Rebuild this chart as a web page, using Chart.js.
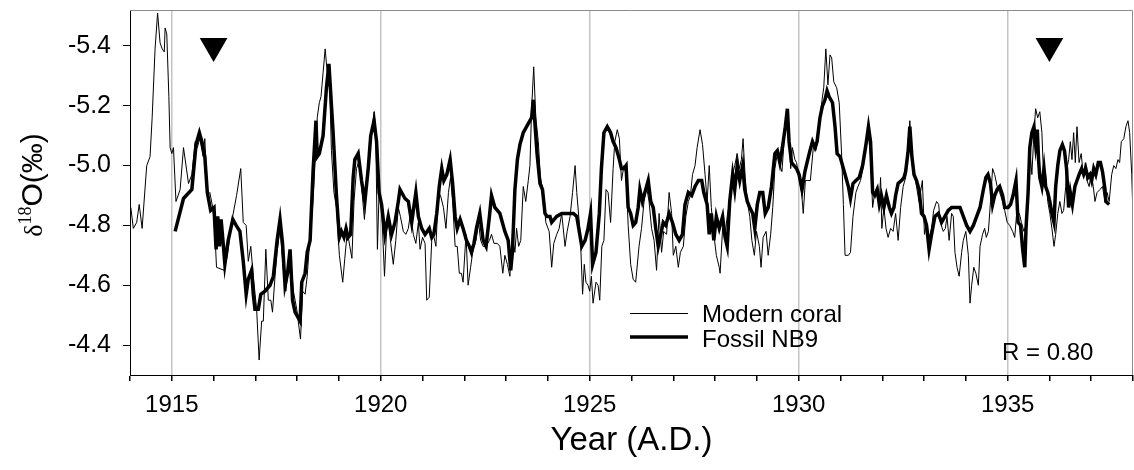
<!DOCTYPE html>
<html>
<head>
<meta charset="utf-8">
<script src="https://cdn.jsdelivr.net/npm/chart.js@4/dist/chart.umd.min.js"></script>
<style>
  body { margin: 0; background: #fff; }
  #wrap { width: 1134px; height: 470px; }
</style>
</head>
<body>
<div id="wrap"><canvas id="grafico" width="1134" height="470"></canvas></div>
<script>
// Modern coral (thin line)
const modernYears = [
  1914.02, 1914.08, 1914.16, 1914.22, 1914.29, 1914.40, 1914.48, 1914.53, 1914.60, 1914.66,
  1914.72, 1914.77, 1914.82, 1914.84, 1914.88, 1914.93, 1914.96, 1915.00, 1915.04, 1915.10,
  1915.20, 1915.28, 1915.40, 1915.48, 1915.56, 1915.61, 1915.67, 1915.75, 1915.79, 1915.85,
  1915.91, 1915.98, 1916.03, 1916.07, 1916.25, 1916.33, 1916.43, 1916.55, 1916.65, 1916.71,
  1916.78, 1916.83, 1916.89, 1916.95, 1917.03, 1917.09, 1917.15, 1917.19, 1917.25, 1917.31,
  1917.37, 1917.41, 1917.47, 1917.52, 1917.59, 1917.67, 1917.73, 1917.83, 1917.91, 1917.99,
  1918.08, 1918.13, 1918.19, 1918.24, 1918.29, 1918.38, 1918.42, 1918.48, 1918.53, 1918.57,
  1918.62, 1918.67, 1918.72, 1918.77, 1918.82, 1918.88, 1918.94, 1919.01, 1919.09, 1919.14,
  1919.20, 1919.26, 1919.31, 1919.36, 1919.42, 1919.49, 1919.54, 1919.61, 1919.66, 1919.73,
  1919.78, 1919.84, 1919.88, 1919.92, 1919.96, 1920.02, 1920.09, 1920.14, 1920.18, 1920.24,
  1920.30, 1920.36, 1920.42, 1920.47, 1920.54, 1920.60, 1920.66, 1920.71, 1920.78, 1920.84,
  1920.90, 1920.94, 1921.00, 1921.06, 1921.10, 1921.16, 1921.22, 1921.26, 1921.32, 1921.38,
  1921.43, 1921.50, 1921.56, 1921.62, 1921.67, 1921.72, 1921.78, 1921.83, 1921.88, 1921.93,
  1921.97, 1922.04, 1922.09, 1922.15, 1922.21, 1922.28, 1922.34, 1922.39, 1922.45, 1922.52,
  1922.60, 1922.65, 1922.71, 1922.79, 1922.85, 1922.92, 1922.97, 1923.03, 1923.09, 1923.15,
  1923.21, 1923.25, 1923.30, 1923.35, 1923.41, 1923.47, 1923.53, 1923.57, 1923.61, 1923.66,
  1923.71, 1923.77, 1923.82, 1923.89, 1923.95, 1924.03, 1924.09, 1924.14, 1924.21, 1924.27,
  1924.33, 1924.41, 1924.46, 1924.53, 1924.59, 1924.65, 1924.69, 1924.75, 1924.78, 1924.83,
  1924.87, 1924.91, 1924.96, 1925.00, 1925.04, 1925.08, 1925.15, 1925.20, 1925.24, 1925.29,
  1925.34, 1925.39, 1925.44, 1925.50, 1925.56, 1925.60, 1925.66, 1925.71, 1925.76, 1925.82,
  1925.87, 1925.92, 1925.98, 1926.04, 1926.10, 1926.18, 1926.24, 1926.30, 1926.36, 1926.42,
  1926.48, 1926.54, 1926.60, 1926.66, 1926.72, 1926.77, 1926.84, 1926.90, 1926.96, 1927.00,
  1927.06, 1927.12, 1927.17, 1927.24, 1927.30, 1927.36, 1927.41, 1927.46, 1927.52, 1927.57,
  1927.64, 1927.70, 1927.76, 1927.81, 1927.86, 1927.91, 1927.97, 1928.03, 1928.10, 1928.12,
  1928.18, 1928.24, 1928.29, 1928.35, 1928.42, 1928.47, 1928.53, 1928.58, 1928.63, 1928.67,
  1928.72, 1928.77, 1928.83, 1928.88, 1928.94, 1928.99, 1929.06, 1929.10, 1929.15, 1929.22,
  1929.27, 1929.33, 1929.38, 1929.43, 1929.49, 1929.55, 1929.60, 1929.65, 1929.71, 1929.76,
  1929.81, 1929.85, 1929.91, 1929.95, 1930.01, 1930.07, 1930.11, 1930.16, 1930.22, 1930.28,
  1930.35, 1930.41, 1930.46, 1930.51, 1930.56, 1930.60, 1930.65, 1930.70, 1930.75, 1930.79,
  1930.84, 1930.91, 1930.97, 1931.03, 1931.07, 1931.11, 1931.19, 1931.24, 1931.30, 1931.37,
  1931.42, 1931.48, 1931.54, 1931.61, 1931.66, 1931.72, 1931.77, 1931.82, 1931.88, 1931.93,
  1931.96, 1931.99, 1932.04, 1932.09, 1932.14, 1932.20, 1932.26, 1932.32, 1932.38, 1932.44,
  1932.50, 1932.56, 1932.62, 1932.66, 1932.71, 1932.76, 1932.82, 1932.88, 1932.96, 1933.01,
  1933.06, 1933.12, 1933.18, 1933.23, 1933.30, 1933.35, 1933.39, 1933.46, 1933.51, 1933.55,
  1933.60, 1933.66, 1933.70, 1933.74, 1933.79, 1933.84, 1933.90, 1933.94, 1934.00, 1934.06,
  1934.10, 1934.14, 1934.19, 1934.24, 1934.30, 1934.34, 1934.40, 1934.45, 1934.49, 1934.54,
  1934.59, 1934.64, 1934.69, 1934.75, 1934.81, 1934.88, 1934.93, 1934.99, 1935.05, 1935.12,
  1935.17, 1935.21, 1935.28, 1935.33, 1935.39, 1935.44, 1935.49, 1935.53, 1935.58, 1935.63,
  1935.67, 1935.72, 1935.77, 1935.82, 1935.87, 1935.91, 1935.96, 1936.01, 1936.06, 1936.11,
  1936.15, 1936.20, 1936.25, 1936.30, 1936.34, 1936.39, 1936.42, 1936.46, 1936.50, 1936.54,
  1936.58, 1936.62, 1936.66, 1936.71, 1936.76, 1936.81, 1936.86, 1936.90, 1936.95, 1937.00,
  1937.05, 1937.09, 1937.14, 1937.21, 1937.27, 1937.33, 1937.38, 1937.43, 1937.49, 1937.54,
  1937.59, 1937.64, 1937.68, 1937.72, 1937.78, 1937.83, 1937.88, 1937.92, 1937.97, 1938.00
];
const modernValues = [
  -4.86, -4.79, -4.81, -4.87, -4.79, -5.00, -5.03, -5.16, -5.39, -5.51,
  -5.41, -5.39, -5.38, -5.46, -5.44, -5.23, -5.06, -5.04, -5.06, -4.88,
  -4.92, -5.06, -4.94, -4.97, -5.08, -5.06, -5.09, -5.03, -5.09, -4.90,
  -4.91, -4.86, -4.78, -4.66, -4.65, -4.70, -4.81, -4.90, -4.99, -4.81,
  -4.80, -4.68, -4.73, -4.63, -4.52, -4.35, -4.48, -4.48, -4.72, -4.55,
  -4.55, -4.51, -4.63, -4.71, -4.79, -4.65, -4.58, -4.71, -4.58, -4.52,
  -4.42, -4.58, -4.57, -4.63, -4.73, -4.88, -4.99, -5.16, -5.21, -5.23,
  -5.31, -5.39, -5.31, -5.30, -5.05, -4.91, -4.86, -4.70, -4.61, -4.69,
  -4.78, -4.73, -4.69, -4.88, -4.99, -5.02, -4.93, -4.82, -4.96, -5.05,
  -5.11, -5.18, -5.11, -4.72, -4.91, -4.86, -4.63, -4.79, -4.81, -4.74,
  -4.67, -4.75, -4.86, -4.83, -4.78, -4.77, -4.79, -4.84, -4.77, -4.74,
  -4.81, -4.72, -4.76, -4.74, -4.55, -4.56, -4.75, -4.77, -4.73, -4.91,
  -4.90, -4.86, -4.79, -4.91, -4.96, -4.88, -4.73, -4.73, -4.64, -4.64,
  -4.61, -4.77, -4.60, -4.66, -4.72, -4.75, -4.81, -4.75, -4.73, -4.73,
  -4.75, -4.77, -4.74, -4.74, -4.73, -4.64, -4.70, -4.67, -4.63, -4.77,
  -4.71, -4.79, -4.73, -4.75, -4.93, -4.88, -4.95, -5.00, -5.19, -5.33,
  -5.16, -5.08, -4.96, -4.91, -4.81, -4.78, -4.66, -4.74, -4.77, -4.79,
  -4.84, -4.73, -4.78, -4.83, -4.91, -5.00, -4.91, -4.81, -4.75, -4.57,
  -4.67, -4.61, -4.60, -4.58, -4.63, -4.54, -4.61, -4.60, -4.55, -4.73,
  -4.75, -4.92, -4.91, -4.81, -4.99, -5.08, -5.12, -5.09, -4.95, -5.00,
  -4.97, -4.80, -4.67, -4.62, -4.61, -4.73, -4.79, -4.88, -4.93, -4.88,
  -4.79, -4.75, -4.65, -4.84, -4.71, -4.78, -4.77, -4.91, -4.84, -4.70,
  -4.73, -4.66, -4.71, -4.73, -4.83, -4.88, -4.90, -4.97, -5.00, -5.06,
  -5.12, -5.07, -4.97, -4.88, -5.00, -4.86, -4.77, -4.70, -4.66, -4.64,
  -4.79, -4.77, -4.83, -4.88, -4.97, -5.00, -5.04, -4.99, -5.02, -5.09,
  -4.96, -4.88, -4.83, -4.75, -4.70, -4.78, -4.73, -4.66, -4.76, -4.78,
  -4.70, -4.77, -4.86, -4.99, -5.04, -5.00, -4.98, -5.08, -5.18, -5.11,
  -4.99, -5.06, -5.02, -5.01, -4.96, -4.91, -4.84, -4.95, -4.95, -4.95,
  -5.06, -5.05, -5.08, -5.16, -5.22, -5.26, -5.39, -5.27, -5.37, -5.36,
  -5.28, -5.26, -5.21, -5.03, -4.87, -4.70, -4.70, -4.71, -4.83, -4.91,
  -4.93, -4.95, -4.99, -5.07, -5.12, -5.03, -4.86, -4.91, -4.93, -4.88,
  -4.96, -4.79, -4.86, -4.79, -4.76, -4.79, -4.78, -4.84, -4.75, -4.86,
  -4.93, -4.96, -5.08, -5.15, -5.04, -4.98, -4.93, -4.88, -4.95, -4.77,
  -4.81, -4.76, -4.79, -4.85, -4.88, -4.87, -4.81, -4.78, -4.79, -4.83,
  -4.75, -4.84, -4.83, -4.71, -4.66, -4.63, -4.71, -4.75, -4.78, -4.70,
  -4.54, -4.60, -4.66, -4.64, -4.60, -4.73, -4.77, -4.79, -4.76, -4.78,
  -4.88, -4.99, -4.97, -4.93, -4.91, -4.88, -4.85, -4.81, -4.80, -4.78,
  -4.76, -4.83, -4.84, -4.81, -4.78, -4.80, -4.93, -5.06, -4.97, -5.11,
  -5.19, -5.16, -5.18, -5.11, -4.93, -4.97, -4.88, -4.84, -4.79, -4.73,
  -4.77, -4.84, -4.88, -4.84, -4.85, -4.93, -4.99, -5.02, -5.08, -5.02,
  -5.11, -5.01, -5.13, -5.01, -5.04, -4.97, -5.01, -4.95, -4.93, -4.97,
  -4.93, -4.88, -4.91, -4.92, -4.93, -4.88, -4.91, -4.88, -4.97, -5.00,
  -4.99, -5.02, -5.01, -5.08, -5.09, -5.13, -5.15, -5.11, -4.97, -4.83
];

// Fossil NB9 (thick line)
const fossilYears = [
  1915.08, 1915.28, 1915.48, 1915.58, 1915.66, 1915.72, 1915.79, 1915.85, 1915.93, 1916.01,
  1916.06, 1916.10, 1916.14, 1916.18, 1916.23, 1916.27, 1916.35, 1916.46, 1916.54, 1916.63,
  1916.71, 1916.78, 1916.83, 1916.91, 1916.95, 1916.99, 1917.07, 1917.13, 1917.23, 1917.35,
  1917.43, 1917.52, 1917.59, 1917.65, 1917.71, 1917.77, 1917.83, 1917.89, 1917.95, 1918.03,
  1918.07, 1918.11, 1918.19, 1918.24, 1918.31, 1918.38, 1918.45, 1918.48, 1918.53, 1918.62,
  1918.70, 1918.76, 1918.86, 1918.94, 1919.01, 1919.06, 1919.12, 1919.17, 1919.22, 1919.28,
  1919.34, 1919.38, 1919.46, 1919.54, 1919.62, 1919.70, 1919.76, 1919.84, 1919.90, 1919.96,
  1920.02, 1920.10, 1920.18, 1920.26, 1920.34, 1920.42, 1920.46, 1920.58, 1920.66, 1920.74,
  1920.84, 1920.90, 1920.98, 1921.06, 1921.11, 1921.16, 1921.22, 1921.27, 1921.34, 1921.40,
  1921.46, 1921.51, 1921.58, 1921.66, 1921.72, 1921.78, 1921.83, 1921.90, 1921.97, 1922.05,
  1922.12, 1922.17, 1922.23, 1922.29, 1922.37, 1922.45, 1922.52, 1922.60, 1922.65, 1922.73,
  1922.85, 1922.97, 1923.05, 1923.11, 1923.15, 1923.21, 1923.27, 1923.33, 1923.41, 1923.49,
  1923.57, 1923.61, 1923.65, 1923.69, 1923.74, 1923.81, 1923.87, 1923.93, 1923.98, 1924.05,
  1924.09, 1924.21, 1924.33, 1924.45, 1924.61, 1924.69, 1924.81, 1924.89, 1924.96, 1925.02,
  1925.07, 1925.15, 1925.23, 1925.28, 1925.34, 1925.42, 1925.50, 1925.56, 1925.63, 1925.71,
  1925.76, 1925.82, 1925.87, 1925.92, 1925.98, 1926.04, 1926.10, 1926.16, 1926.20, 1926.26,
  1926.32, 1926.40, 1926.46, 1926.52, 1926.58, 1926.64, 1926.70, 1926.76, 1926.82, 1926.90,
  1926.98, 1927.06, 1927.14, 1927.22, 1927.28, 1927.36, 1927.44, 1927.52, 1927.60, 1927.68,
  1927.73, 1927.81, 1927.86, 1927.91, 1927.97, 1928.03, 1928.10, 1928.18, 1928.24, 1928.29,
  1928.35, 1928.42, 1928.47, 1928.53, 1928.59, 1928.66, 1928.71, 1928.77, 1928.83, 1928.90,
  1928.95, 1929.01, 1929.07, 1929.14, 1929.20, 1929.27, 1929.35, 1929.43, 1929.49, 1929.55,
  1929.61, 1929.68, 1929.73, 1929.77, 1929.83, 1929.89, 1929.95, 1930.01, 1930.08, 1930.15,
  1930.20, 1930.27, 1930.33, 1930.39, 1930.44, 1930.51, 1930.57, 1930.63, 1930.68, 1930.73,
  1930.81, 1930.87, 1930.92, 1930.99, 1931.05, 1931.11, 1931.19, 1931.24, 1931.30, 1931.37,
  1931.45, 1931.53, 1931.61, 1931.67, 1931.72, 1931.77, 1931.82, 1931.88, 1931.93, 1931.98,
  1932.04, 1932.10, 1932.17, 1932.22, 1932.28, 1932.32, 1932.38, 1932.46, 1932.52, 1932.56,
  1932.62, 1932.66, 1932.71, 1932.76, 1932.82, 1932.88, 1932.94, 1933.00, 1933.06, 1933.12,
  1933.18, 1933.26, 1933.34, 1933.42, 1933.50, 1933.58, 1933.66, 1933.78, 1933.86, 1933.94,
  1934.02, 1934.10, 1934.18, 1934.26, 1934.34, 1934.42, 1934.48, 1934.53, 1934.59, 1934.64,
  1934.69, 1934.75, 1934.81, 1934.88, 1934.93, 1935.01, 1935.07, 1935.13, 1935.20, 1935.25,
  1935.31, 1935.36, 1935.41, 1935.44, 1935.49, 1935.53, 1935.58, 1935.63, 1935.67, 1935.71,
  1935.74, 1935.77, 1935.82, 1935.87, 1935.91, 1935.96, 1936.01, 1936.06, 1936.11, 1936.15,
  1936.20, 1936.25, 1936.31, 1936.36, 1936.41, 1936.46, 1936.50, 1936.55, 1936.61, 1936.66,
  1936.71, 1936.77, 1936.82, 1936.87, 1936.92, 1936.97, 1937.01, 1937.06, 1937.11, 1937.17,
  1937.22, 1937.27, 1937.33, 1937.35, 1937.43
];
const fossilValues = [
  -4.78, -4.89, -4.92, -5.07, -5.11, -5.08, -5.03, -4.91, -4.85, -4.86,
  -4.72, -4.83, -4.73, -4.82, -4.74, -4.67, -4.75, -4.82, -4.80, -4.78,
  -4.68, -4.57, -4.62, -4.65, -4.57, -4.52, -4.52, -4.57, -4.58, -4.60,
  -4.63, -4.75, -4.82, -4.74, -4.60, -4.64, -4.72, -4.55, -4.51, -4.49,
  -4.48, -4.61, -4.64, -4.71, -4.75, -4.98, -5.15, -5.03, -5.04, -5.10,
  -5.26, -5.34, -5.11, -4.90, -4.76, -4.78, -4.76, -4.79, -4.76, -4.77,
  -4.96, -5.02, -5.04, -4.95, -4.88, -4.99, -5.10, -5.15, -5.08, -4.91,
  -4.87, -4.77, -4.83, -4.77, -4.81, -4.88, -4.92, -4.89, -4.88, -4.81,
  -4.91, -4.83, -4.79, -4.77, -4.78, -4.79, -4.76, -4.77, -4.84, -4.93,
  -4.99, -4.95, -4.97, -5.02, -4.94, -4.83, -4.79, -4.82, -4.79, -4.75,
  -4.73, -4.71, -4.74, -4.79, -4.84, -4.75, -4.73, -4.83, -4.90, -4.86,
  -4.84, -4.78, -4.75, -4.65, -4.71, -4.92, -5.02, -5.07, -5.11, -5.13,
  -5.15, -5.16, -5.22, -5.14, -5.04, -4.94, -4.92, -4.84, -4.83, -4.83,
  -4.81, -4.83, -4.84, -4.84, -4.84, -4.83, -4.73, -4.75, -4.79, -4.84,
  -4.67, -4.71, -4.84, -4.99, -5.11, -5.13, -5.11, -5.08, -5.06, -5.02,
  -4.99, -4.99, -5.00, -4.86, -4.84, -4.80, -4.81, -4.86, -4.92, -4.88,
  -4.91, -4.95, -4.88, -4.86, -4.79, -4.73, -4.77, -4.81, -4.80, -4.84,
  -4.81, -4.77, -4.75, -4.77, -4.87, -4.91, -4.90, -4.93, -4.95, -4.95,
  -4.91, -4.87, -4.77, -4.84, -4.75, -4.83, -4.79, -4.83, -4.76, -4.73,
  -4.88, -4.97, -4.92, -5.00, -4.95, -5.00, -4.92, -4.88, -4.86, -4.84,
  -4.79, -4.87, -4.91, -4.91, -4.84, -4.86, -4.93, -5.04, -5.05, -5.01,
  -5.06, -5.13, -5.19, -5.08, -5.01, -5.00, -4.99, -4.97, -4.92, -4.98,
  -5.01, -5.05, -5.08, -5.06, -5.08, -5.16, -5.20, -5.22, -5.25, -5.23,
  -5.21, -5.13, -5.04, -5.03, -5.00, -4.97, -4.93, -4.89, -4.94, -4.95,
  -4.96, -5.00, -5.07, -5.13, -5.08, -4.91, -4.90, -4.92, -4.87, -4.90,
  -4.86, -4.90, -4.86, -4.84, -4.86, -4.90, -4.94, -4.95, -4.96, -4.98,
  -5.05, -5.13, -5.03, -4.97, -4.95, -4.92, -4.84, -4.83, -4.80, -4.72,
  -4.77, -4.83, -4.84, -4.81, -4.83, -4.85, -4.86, -4.86, -4.86, -4.83,
  -4.80, -4.78, -4.80, -4.83, -4.86, -4.92, -4.96, -4.97, -4.94, -4.87,
  -4.90, -4.92, -4.93, -4.90, -4.86, -4.86, -4.87, -4.90, -4.95, -4.81,
  -4.80, -4.72, -4.66, -4.79, -4.91, -5.06, -5.11, -5.13, -5.07, -5.12,
  -5.02, -4.96, -4.93, -4.99, -4.93, -4.91, -4.88, -4.84, -4.81, -4.93,
  -5.00, -5.05, -5.07, -5.05, -4.99, -4.86, -4.91, -4.87, -4.93, -4.95,
  -4.97, -4.99, -4.97, -4.99, -4.96, -4.97, -4.95, -4.99, -4.97, -5.01,
  -5.01, -4.98, -4.92, -4.88, -4.87
];

// Triangle markers
const markerYears = [1916, 1936];
const markerValues = [-5.40, -5.40];

// Axis ticks
const xTickYears = [1914, 1915, 1916, 1917, 1918, 1919, 1920, 1921, 1922, 1923, 1924, 1925, 1926,
  1927, 1928, 1929, 1930, 1931, 1932, 1933, 1934, 1935, 1936, 1937, 1938];
const xTickLabels = [1915, 1920, 1925, 1930, 1935];
const yTicks = [-5.4, -5.2, -5.0, -4.8, -4.6, -4.4];

const toPoints = (xs, ys) => xs.map((x, i) => ({ x: x, y: ys[i] }));

const SANS = '"Liberation Sans", Arial, sans-serif';
const SERIF = '"Liberation Serif", "Times New Roman", serif';

// frame, legend, R text and y title
const extras = {
  id: 'extras',
  afterDraw(chart) {
    const ctx = chart.ctx;
    const a = chart.chartArea;
    ctx.save();
    ctx.strokeStyle = '#8c8c8c';
    ctx.lineWidth = 1;
    ctx.beginPath();
    ctx.moveTo(a.left, a.top + 0.5);
    ctx.lineTo(a.right - 0.5, a.top + 0.5);
    ctx.lineTo(a.right - 0.5, a.bottom);
    ctx.stroke();

    // legend
    ctx.strokeStyle = '#000';
    ctx.lineWidth = 1;
    ctx.beginPath();
    ctx.moveTo(630, 313.5);
    ctx.lineTo(688, 313.5);
    ctx.stroke();
    ctx.lineWidth = 3.5;
    ctx.beginPath();
    ctx.moveTo(630, 337);
    ctx.lineTo(688, 337);
    ctx.stroke();
    ctx.fillStyle = '#000';
    ctx.font = '24px ' + SANS;
    ctx.textBaseline = 'alphabetic';
    ctx.textAlign = 'left';
    ctx.fillText('Modern coral', 702, 322);
    ctx.fillText('Fossil NB9', 702, 347);
    ctx.fillText('R = 0.80', 1002, 360);

    // y axis title: δ18O(‰)
    ctx.translate(42, 185);
    ctx.rotate(-Math.PI / 2);
    const parts = [
      { t: 'δ', f: '26px ' + SERIF, dy: 0 },
      { t: '18', f: '18px ' + SERIF, dy: -11 },
      { t: 'O(‰)', f: '30px ' + SANS, dy: 0 }
    ];
    let total = 0;
    parts.forEach(p => { ctx.font = p.f; p.w = ctx.measureText(p.t).width; total += p.w; });
    let x = -total / 2;
    parts.forEach(p => {
      ctx.font = p.f;
      ctx.fillText(p.t, x, p.dy);
      x += p.w;
    });
    ctx.restore();
  }
};

const ctx = document.getElementById('grafico').getContext('2d');
const grafico = new Chart(ctx, {
  type: 'line',
  data: {
    datasets: [
      {
        label: 'Modern coral',
        data: toPoints(modernYears, modernValues),
        borderColor: '#000',
        borderWidth: 1,
        pointRadius: 0,
        tension: 0,
        fill: false
      },
      {
        label: 'Fossil NB9',
        data: toPoints(fossilYears, fossilValues),
        borderColor: '#000',
        borderWidth: 3.5,
        pointRadius: 0,
        tension: 0,
        fill: false
      },
      {
        label: 'markers',
        data: toPoints(markerYears, markerValues),
        showLine: false,
        pointStyle: 'triangle',
        rotation: 180,
        pointRadius: 16,
        pointBackgroundColor: '#000',
        pointBorderColor: '#000',
        pointBorderWidth: 0
      }
    ]
  },
  options: {
    responsive: false,
    animation: false,
    layout: { autoPadding: false, padding: { left: 0, right: 1, top: 10, bottom: 0 } },
    plugins: {
      legend: { display: false },
      tooltip: { enabled: false }
    },
    scales: {
      x: {
        type: 'linear',
        min: 1914,
        max: 1938,
        afterFit: s => { s.height = 95; s.paddingLeft = 0; s.paddingRight = 0; },
        afterBuildTicks: s => { s.ticks = xTickYears.map(v => ({ value: v })); },
        grid: {
          color: c => (c.tick && xTickLabels.includes(c.tick.value) ? '#c4c4c4' : 'rgba(0,0,0,0)'),
          lineWidth: 1.5,
          tickColor: '#000',
          tickLength: 6
        },
        border: { color: '#000', width: 1 },
        ticks: {
          autoSkip: false,
          maxRotation: 0,
          padding: 10,
          color: '#000',
          font: { family: SANS, size: 24 },
          callback: v => (xTickLabels.includes(v) ? String(v) : '')
        },
        title: {
          display: true,
          text: 'Year (A.D.)',
          color: '#000',
          font: { family: SANS, size: 33 },
          padding: { top: 0, bottom: 9 }
        }
      },
      y: {
        type: 'linear',
        reverse: true,
        min: -5.52,
        max: -4.30,
        afterFit: s => { s.width = 130; s.paddingTop = 0; s.paddingBottom = 0; },
        afterBuildTicks: s => { s.ticks = yTicks.map(v => ({ value: v })); },
        grid: {
          drawOnChartArea: false,
          tickColor: '#000',
          tickLength: 7
        },
        border: { color: '#000', width: 1 },
        ticks: {
          padding: 12,
          color: '#000',
          font: { family: SANS, size: 25 },
          callback: v => v.toFixed(1)
        }
      }
    }
  },
  plugins: [extras]
});
</script>
</body>
</html>
